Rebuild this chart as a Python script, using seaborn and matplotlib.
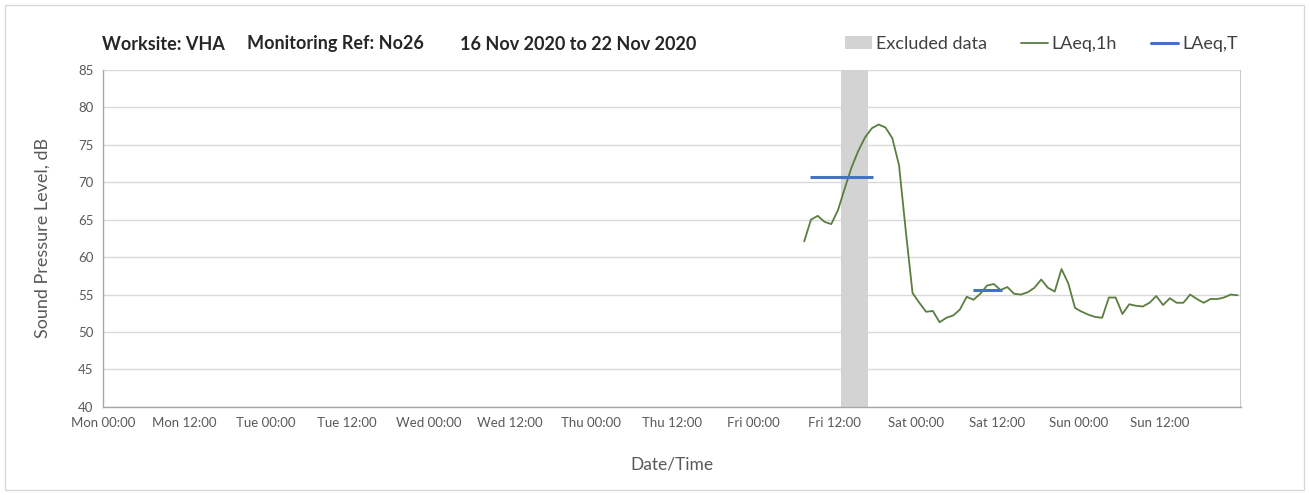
import pandas as pd
import numpy as np
import matplotlib
matplotlib.use("Agg")
import matplotlib.pyplot as plt
import matplotlib.dates as mdates
from matplotlib.patches import Patch, Rectangle
from matplotlib.lines import Line2D
import seaborn as sns

# === Data ===
laeq_1h_first = "2020-11-20 07:30"
laeq_1h = [62.1, 65.0, 65.5, 64.7, 64.4, 66.3, 69.2, 72.0, 74.2, 76.0,
           77.2, 77.7, 77.3, 75.9, 72.3, 63.5, 55.2, 53.9, 52.7, 52.8,
           51.3, 51.9, 52.2, 53.0, 54.7, 54.3, 55.1, 56.2, 56.4, 55.6,
           56.0, 55.1, 55.0, 55.3, 55.9, 57.0, 55.9, 55.4, 58.4, 56.5,
           53.2, 52.7, 52.3, 52.0, 51.9, 54.6, 54.6, 52.4, 53.7, 53.5,
           53.4, 53.9, 54.8, 53.6, 54.5, 53.9, 53.9, 55.0, 54.4, 53.9,
           54.4, 54.4, 54.6, 55.0, 54.9]
laeq_t_start = ["2020-11-20 08:20", "2020-11-21 08:28"]
laeq_t_end = ["2020-11-20 17:36", "2020-11-21 12:40"]
laeq_t = [70.7, 55.6]
excluded_start = ["2020-11-20 13:00"]
excluded_end = ["2020-11-20 16:55"]

week_start = "2020-11-16 00:00"
week_end = "2020-11-23 00:00"

df = pd.DataFrame({
    "time": pd.date_range(laeq_1h_first, periods=len(laeq_1h), freq="h"),
    "level": laeq_1h,
})

# === Style ===
sns.set_style("white")
plt.rcParams["font.family"] = ["Lato", "DejaVu Sans"]

green = "#5a7d40"
blue = "#4472c4"
grey_txt = "#595959"

fig = plt.figure(figsize=(13.09, 4.95), dpi=100)
ax = fig.add_axes([0.079, 0.178, 0.869, 0.681])

for s, e in zip(excluded_start, excluded_end):
    ax.axvspan(pd.Timestamp(s), pd.Timestamp(e), color="#d3d3d3", lw=0, zorder=1)

sns.lineplot(data=df, x="time", y="level", color=green, lw=1.3, ax=ax, zorder=3)
ax.hlines(laeq_t, pd.to_datetime(laeq_t_start), pd.to_datetime(laeq_t_end),
          color=blue, lw=2.2, zorder=4)

ax.set_xlim(pd.Timestamp(week_start), pd.Timestamp(week_end))
ax.set_ylim(40, 85)
ax.set_yticks(range(40, 90, 5))

ax.xaxis.set_major_locator(mdates.HourLocator(byhour=[0, 12]))
ax.xaxis.set_major_formatter(mdates.DateFormatter("%a %H:%M"))
ax.xaxis.set_minor_locator(mdates.DayLocator())

ax.grid(False)
ax.grid(axis="y", which="major", color="#d9d9d9", lw=1)
ax.grid(axis="x", which="minor", color="#d9d9d9", lw=1)
ax.set_axisbelow(True)

for side in ["top", "right"]:
    ax.spines[side].set_visible(False)
for side in ["left", "bottom"]:
    ax.spines[side].set_color("#a6a6a6")
    ax.spines[side].set_linewidth(1)
ax.axvline(pd.Timestamp(week_end), color="#bfbfbf", lw=1.2, zorder=2)

ax.tick_params(axis="both", which="major", direction="out", length=4,
               color="#a6a6a6", labelsize=9.5, labelcolor=grey_txt, pad=3)
ax.tick_params(axis="x", which="minor", length=0)
fig.canvas.draw()
xt = ax.get_xticklabels()
if len(xt):
    xt[-1].set_visible(False)

ax.set_xlabel("Date/Time", fontsize=12.5, color=grey_txt, labelpad=20)
ax.set_ylabel("Sound Pressure Level, dB", fontsize=13, color=grey_txt, labelpad=20)

# === Title pieces ===
ty = 1 - 44 / 495
fig.text(102 / 1309, ty, "Worksite: VHA", fontsize=13, weight="bold", va="center")
fig.text(247 / 1309, ty, "Monitoring Ref: No26", fontsize=13, weight="bold", va="center")
fig.text(460 / 1309, ty, "16 Nov 2020 to 22 Nov 2020", fontsize=13, weight="bold", va="center")

handles = [Patch(facecolor="#d3d3d3", edgecolor="none"),
           Line2D([], [], color=green, lw=1.3),
           Line2D([], [], color=blue, lw=2.2)]
fig.legend(handles, ["Excluded data", "LAeq,1h", "LAeq,T"], ncol=3, frameon=False,
           loc="center left", bbox_to_anchor=(836 / 1309, ty), fontsize=13,
           handlelength=1.5, handletextpad=0.2, columnspacing=1.9, borderpad=0,
           labelcolor="#404040")

fig.patches.append(Rectangle((0.004, 0.01), 0.992, 0.98, transform=fig.transFigure,
                             fill=False, edgecolor="#d9d9d9", lw=1))

plt.savefig("out.png", dpi=100)
